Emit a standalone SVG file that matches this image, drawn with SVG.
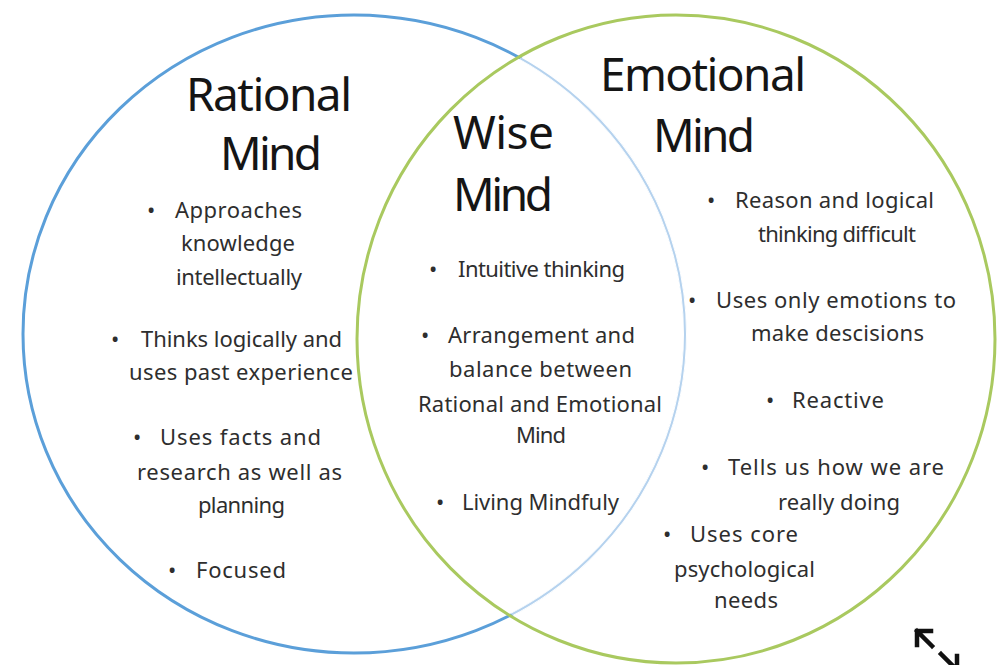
<svg xmlns="http://www.w3.org/2000/svg" width="998" height="665" viewBox="0 0 998 665">
<style>
.t{font-family:"Noto Sans","Liberation Sans",sans-serif;fill:#151515;font-size:46px}
.b{font-family:"Noto Sans","Liberation Sans",sans-serif;fill:#2e2e2e;font-size:22px}
.blue{fill:none;stroke:#5b9fd9;stroke-width:3}
.green{fill:none;stroke:#a9c95f;stroke-width:3}
.ic{fill:none;stroke:#111;stroke-width:4.5;stroke-linecap:square}
</style>
<defs>
<clipPath id="inGreen"><ellipse cx="676" cy="339" rx="317" ry="322"/></clipPath>
</defs>
<rect width="998" height="665" fill="#fff"/>
<g id="connectors">
</g>
<g id="rational-circle">
<ellipse class="blue" cx="354" cy="334" rx="331" ry="319"/>
<ellipse cx="354" cy="334" rx="331" ry="319" fill="none" stroke="#fff" stroke-width="4" clip-path="url(#inGreen)"/>
<ellipse cx="354" cy="334" rx="331" ry="319" fill="none" stroke="#b5d2ee" stroke-width="2" clip-path="url(#inGreen)"/>
</g>
<g id="emotional-circle"><ellipse class="green" cx="676" cy="339" rx="319" ry="324"/></g>
<g id="rational-mind">
<text class="t" x="186" y="111" textLength="166">Rational</text>
<text class="t" x="220" y="170" textLength="102">Mind</text>
<text class="b" x="147" y="218">•</text>
<text class="b" x="175" y="218" textLength="127">Approaches</text>
<text class="b" x="181" y="251" textLength="114">knowledge</text>
<text class="b" x="176" y="285" textLength="126">intellectually</text>
<text class="b" x="111" y="347">•</text>
<text class="b" x="141" y="347" textLength="201">Thinks logically and</text>
<text class="b" x="129" y="380" textLength="224">uses past experience</text>
<text class="b" x="133" y="445">•</text>
<text class="b" x="160" y="445" textLength="161">Uses facts and</text>
<text class="b" x="137" y="480" textLength="205">research as well as</text>
<text class="b" x="198" y="513" textLength="87">planning</text>
<text class="b" x="168" y="578">•</text>
<text class="b" x="196" y="578" textLength="90">Focused</text>
</g>
<g id="wise-mind">
<text class="t" x="453" y="149" textLength="101">Wise</text>
<text class="t" x="453" y="211" textLength="100">Mind</text>
<text class="b" x="429" y="277">•</text>
<text class="b" x="458" y="277" textLength="167">Intuitive thinking</text>
<text class="b" x="421" y="343">•</text>
<text class="b" x="448" y="343" textLength="187">Arrangement and</text>
<text class="b" x="449" y="377" textLength="183">balance between</text>
<text class="b" x="418" y="412" textLength="244">Rational and Emotional</text>
<text class="b" x="516" y="443" textLength="50">Mind</text>
<text class="b" x="436" y="510">•</text>
<text class="b" x="462" y="510" textLength="157">Living Mindfuly</text>
</g>
<g id="emotional-mind">
<text class="t" x="600" y="91" textLength="206">Emotional</text>
<text class="t" x="653" y="152" textLength="102">Mind</text>
<text class="b" x="707" y="208">•</text>
<text class="b" x="735" y="208" textLength="199">Reason and logical</text>
<text class="b" x="758" y="242" textLength="158">thinking difficult</text>
<text class="b" x="688" y="308">•</text>
<text class="b" x="716" y="308" textLength="240">Uses only emotions to</text>
<text class="b" x="751" y="341" textLength="173">make descisions</text>
<text class="b" x="766" y="408">•</text>
<text class="b" x="792" y="408" textLength="92">Reactive</text>
<text class="b" x="701" y="475">•</text>
<text class="b" x="728" y="475" textLength="216">Tells us how we are</text>
<text class="b" x="778" y="510" textLength="122">really doing</text>
<text class="b" x="663" y="542">•</text>
<text class="b" x="690" y="542" textLength="108">Uses core</text>
<text class="b" x="674" y="577" textLength="141">psychological</text>
<text class="b" x="714" y="608" textLength="64">needs</text>
</g>
<g id="resize-icon">
<path class="ic" d="M917 631 L932 646 M917 631 H931 M917 631 V645"/>
<path class="ic" d="M941 654 L957 670 M957 670 V656 M957 670 H943"/>
</g>
</svg>
